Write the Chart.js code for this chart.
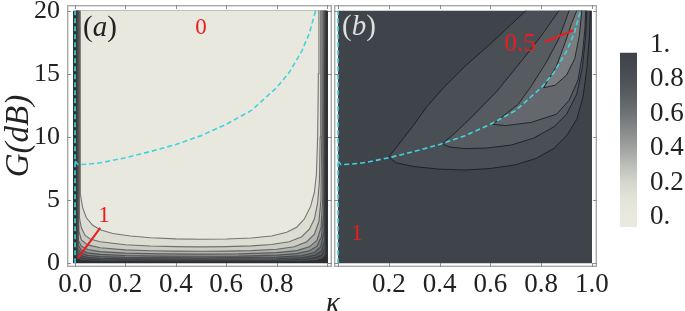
<!DOCTYPE html>
<html>
<head>
<meta charset="utf-8">
<script src="https://cdn.jsdelivr.net/npm/chart.js@4.4.1/dist/chart.umd.min.js"></script>
<style>
  body { margin: 0; background: #fff; }
  #wrap { position: relative; width: 685px; height: 311px; overflow: hidden; font-family: "Liberation Serif", serif; }
  canvas { position: absolute; top: 0; }
  .lbl { position: absolute; transform: translate(-50%, -50%); line-height: 1; white-space: nowrap; }
  .red { color: #ee1c1c; }
</style>
</head>
<body>
<div id="wrap">
  <canvas id="chartA" width="335" height="311" style="left:0"></canvas>
  <canvas id="chartB" width="290" height="311" style="left:330px"></canvas>
  <canvas id="chartC" width="85" height="311" style="left:600px"></canvas>

  <div class="lbl" style="left:100px;top:26px;font-size:29px;color:#222">(<i>a</i>)</div>
  <div class="lbl" style="left:359px;top:25px;font-size:29px;color:#dedede">(<i>b</i>)</div>
  <div class="lbl red" style="left:201px;top:26px;font-size:23px">0</div>
  <div class="lbl red" style="left:104px;top:214px;font-size:23px">1</div>
  <div class="lbl red" style="left:520px;top:42px;font-size:25px">0.5</div>
  <div class="lbl red" style="left:357px;top:232px;font-size:23px">1</div>
  <div class="lbl" style="left:333px;top:302px;font-size:29px;color:#222"><i>κ</i></div>
</div>

<script>
// ---- data ----

// axis ticks
const kTicksA = [0, 0.2, 0.4, 0.6, 0.8];
const kTicksB = [0.2, 0.4, 0.6, 0.8, 1.0];
const kFrameTicks = [0, 0.2, 0.4, 0.6, 0.8, 1.0];
const gTicks = [0, 5, 10, 15, 20];

// colour bar
const cbTicks = [0, 0.2, 0.4, 0.6, 0.8, 1];
const cbTickLabels = ["0.", "0.2", "0.4", "0.6", "0.8", "1."];
const cbRange = [-0.058, 0.953];
const cbStops = [0, 0.1, 0.2, 0.3, 0.4, 0.5, 0.6, 0.7, 0.8, 0.9, 1];
const cbColors = ["#e9e9e0", "#e3e4da", "#d5d6cd", "#bcbeb8", "#a0a3a0", "#868a8a",
                  "#6e7376", "#5b6064", "#4c5157", "#42464d", "#3b3f46"];

// cyan dashed curve (same in both panels)
const cyanK = [0, 0.012, 0.05, 0.1, 0.2, 0.3, 0.4, 0.5, 0.6, 0.7, 0.8, 0.85, 0.9, 0.93, 0.955];
const cyanG = [8.1, 7.8, 7.85, 7.95, 8.35, 8.85, 9.4, 10.1, 11.0, 12.1, 13.9, 15.1, 16.8, 18.2, 20];

// panel (a): contour lines, levels 0.1 ... 0.9 (outer to inner)
const contourA1 = [[0.02,20],[0.02,7],[0.022,5.5],[0.03,4.4],[0.045,3.6],[0.07,3.0],[0.1,2.65],[0.15,2.35],[0.22,2.15],[0.3,2.02],[0.4,1.93],[0.5,1.9],[0.6,1.92],[0.7,2.0],[0.78,2.15],[0.84,2.45],[0.88,2.85],[0.91,3.5],[0.935,4.5],[0.95,5.6],[0.958,7],[0.963,10],[0.966,15],[0.968,20]];
const contourA2 = [[0.017,20],[0.017,5],[0.018,3.6],[0.025,2.8],[0.04,2.2],[0.06,1.92],[0.1,1.7],[0.2,1.46],[0.3,1.36],[0.4,1.31],[0.5,1.29],[0.6,1.31],[0.7,1.37],[0.78,1.48],[0.85,1.7],[0.9,2.1],[0.93,2.7],[0.95,3.5],[0.963,4.8],[0.97,6.5],[0.973,10],[0.975,20]];
const contourA3 = [[0.014,20],[0.014,4],[0.016,2.5],[0.025,1.85],[0.05,1.45],[0.1,1.22],[0.2,1.06],[0.3,0.99],[0.4,0.96],[0.5,0.95],[0.6,0.96],[0.7,1.0],[0.8,1.1],[0.87,1.3],[0.92,1.7],[0.95,2.3],[0.968,3.3],[0.976,5],[0.979,10],[0.98,20]];
const contourA4 = [[0.012,20],[0.012,3],[0.015,1.8],[0.025,1.35],[0.05,1.08],[0.1,0.92],[0.2,0.8],[0.35,0.74],[0.5,0.72],[0.65,0.74],[0.8,0.84],[0.88,1.0],[0.93,1.3],[0.96,1.8],[0.976,2.8],[0.983,5],[0.985,20]];
const contourA5 = [[0.01,20],[0.01,2.4],[0.014,1.4],[0.025,1.02],[0.05,0.82],[0.1,0.7],[0.2,0.61],[0.35,0.56],[0.5,0.55],[0.65,0.56],[0.8,0.64],[0.88,0.76],[0.93,0.98],[0.96,1.35],[0.978,2.1],[0.987,4],[0.989,20]];
const contourA6 = [[0.008,20],[0.008,1.9],[0.012,1.1],[0.025,0.78],[0.05,0.62],[0.1,0.53],[0.2,0.46],[0.5,0.42],[0.8,0.48],[0.9,0.6],[0.95,0.85],[0.975,1.3],[0.988,2.5],[0.992,20]];
const contourA7 = [[0.006,20],[0.006,1.5],[0.01,0.85],[0.025,0.58],[0.05,0.46],[0.1,0.39],[0.2,0.34],[0.5,0.31],[0.8,0.35],[0.9,0.44],[0.95,0.62],[0.978,0.95],[0.991,1.8],[0.995,20]];
const contourA8 = [[0.004,20],[0.004,1.1],[0.008,0.6],[0.025,0.4],[0.05,0.32],[0.1,0.27],[0.5,0.21],[0.8,0.24],[0.9,0.3],[0.95,0.42],[0.98,0.65],[0.993,1.2],[0.997,20]];
const contourA9 = [[0.002,20],[0.002,0.7],[0.006,0.35],[0.025,0.22],[0.1,0.15],[0.5,0.12],[0.9,0.16],[0.96,0.22],[0.985,0.38],[0.996,0.7],[0.999,20]];
const plotBoxA = [[-0.008,20],[-0.008,0],[1.004,0],[1.004,20]];
const bandColorsA = ["#e8e8df", "#dcddd3", "#cbcdc4", "#b2b4ae", "#979a98", "#7e8383", "#686d70", "#565b5f", "#484c51"];
const outerColorA = "#2c2e31";

// panel (b): lobes (top-left edge down to cusp, then lower edge up to the top)
const lobeB1 = [[0.74,20],[0.66,18.5],[0.585,17.1],[0.5,15.6],[0.42,14.0],[0.35,12.4],[0.3,11.0],[0.25,9.7],[0.2,8.4],[0.23,7.95],[0.3,7.65],[0.4,7.45],[0.5,7.38],[0.6,7.5],[0.7,7.8],[0.78,8.3],[0.85,9.1],[0.9,10.1],[0.94,11.4],[0.965,13.2],[0.98,15.5],[0.99,18],[0.993,20]];
const lobeB2 = [[0.87,20],[0.8,18.0],[0.73,16.2],[0.625,13.6],[0.52,11.45],[0.46,10.3],[0.41,9.45],[0.44,9.2],[0.5,9.08],[0.585,9.12],[0.68,9.35],[0.77,9.9],[0.85,10.8],[0.9,11.8],[0.94,13.4],[0.962,15.5],[0.975,18],[0.98,20]];
const lobeB3 = [[0.91,20],[0.87,17.8],[0.82,15.9],[0.76,14.0],[0.71,12.6],[0.61,11.0],[0.66,10.9],[0.76,11.15],[0.86,11.8],[0.91,12.9],[0.945,14.5],[0.962,16.5],[0.972,18.5],[0.975,20]];
const lobeB4 = [[0.94,20],[0.92,19],[0.893,17.4],[0.86,15.6],[0.81,13.9],[0.855,14.1],[0.9,14.9],[0.932,16.2],[0.95,18.0],[0.96,20]];
const plotBoxB = [[0,20],[0,0],[1,0],[1,20]];
const lobeColorsB = ["#4a4e55", "#565b60", "#64686c", "#797d7f"];
const outerColorB = "#3f434a";

// red pointer lines
const pointerA = [[0.012,0.42],[0.1,2.8]];
const pointerB = [[0.815,17.54],[0.929,18.46]];
const zeroLine = [[0,0],[0,20]];

// ---- helpers ----
const FONT = "'Liberation Serif', serif";
const CYAN = "#3fd4df";
const RED = "#ee1c1c";

const pts = arr => arr.map(([x, y]) => ({ x, y }));

function area(points, fillColor, lineColor, width) {
    return {
        data: pts(points),
        fill: "shape",
        backgroundColor: fillColor,
        borderColor: lineColor || "rgba(0,0,0,0)",
        borderWidth: width || 0,
        pointRadius: 0
    };
}

function line(points, color, width, dash) {
    return {
        data: pts(points),
        fill: false,
        borderColor: color,
        borderWidth: width,
        borderDash: dash || [],
        pointRadius: 0
    };
}

const cyanPoints = cyanK.map((k, i) => [k, cyanG[i]]);

// frame with inward ticks, like the original
const framePlugin = {
    id: "frame",
    afterDatasetsDraw(chart, args, opts) {
        const { ctx, chartArea: a, scales } = chart;
        const x = scales.x, y = scales.y;
        ctx.save();
        ctx.strokeStyle = "#a8a8a8";
        ctx.lineWidth = 1.4;
        ctx.strokeRect(a.left + 0.7, a.top + 0.7, a.right - a.left - 1.4, a.bottom - a.top - 1.4);
        ctx.lineWidth = 1;
        ctx.strokeStyle = "#8c8c8c";
        ctx.beginPath();
        (opts.xt || []).forEach(v => {
            const p = Math.round(x.getPixelForValue(v)) + 0.5;
            ctx.moveTo(p, a.bottom); ctx.lineTo(p, a.bottom - 4);
            ctx.moveTo(p, a.top); ctx.lineTo(p, a.top + 4);
        });
        (opts.yt || []).forEach(v => {
            const p = Math.round(y.getPixelForValue(v)) + 0.5;
            ctx.moveTo(a.left, p); ctx.lineTo(a.left + 4, p);
            ctx.moveTo(a.right, p); ctx.lineTo(a.right - 4, p);
        });
        ctx.stroke();
        ctx.restore();
    }
};

// keep the tick labels from pushing the plot area in
function noPad(axis) {
    axis.paddingTop = 0;
    axis.paddingBottom = 0;
    axis.paddingLeft = 0;
    axis.paddingRight = 0;
}

function xAxis(min, max, tickVals) {
    return {
        type: "linear",
        min: min,
        max: max,
        afterBuildTicks: axis => { axis.ticks = tickVals.map(v => ({ value: v })); },
        afterFit: axis => { axis.height = 44; noPad(axis); },
        ticks: {
            callback: v => Number(v).toFixed(1),
            font: { family: FONT, size: 27 },
            color: "#222",
            padding: 2,
            maxRotation: 0,
            autoSkip: false
        },
        grid: { display: false, drawTicks: false },
        border: { display: false }
    };
}

const baseOptions = {
    responsive: false,
    animation: false,
    events: [],
    elements: { line: { tension: 0 }, point: { radius: 0 } }
};

// ---- panel (a) ----
const contoursA = [contourA1, contourA2, contourA3, contourA4, contourA5, contourA6, contourA7, contourA8, contourA9];

new Chart(document.getElementById("chartA"), {
    type: "line",
    data: {
        datasets: [
            line(pointerA, RED, 2),
            line(cyanPoints, CYAN, 1.6, [5, 3]),
            line(zeroLine, CYAN, 1.6, [5, 3]),
            ...contoursA.map((c, i) => area(c, bandColorsA[i], "rgba(45,45,45,0.6)", 1.1)),
            area(plotBoxA, outerColorA)
        ]
    },
    options: {
        ...baseOptions,
        layout: { padding: { left: 0, right: 3, top: 5, bottom: 0 } },
        plugins: {
            legend: { display: false },
            tooltip: { enabled: false },
            frame: { xt: kFrameTicks, yt: gTicks }
        },
        scales: {
            x: xAxis(-0.032, 1.02, kTicksA),
            y: {
                type: "linear",
                min: -0.3,
                max: 20.45,
                afterBuildTicks: axis => { axis.ticks = gTicks.map(v => ({ value: v })); },
                afterFit: axis => { axis.width = 67; noPad(axis); },
                ticks: {
                    callback: v => String(v),
                    font: { family: FONT, size: 26 },
                    color: "#222",
                    padding: 7
                },
                grid: { display: false, drawTicks: false },
                border: { display: false },
                title: {
                    display: true,
                    text: "G(dB)",
                    font: { family: FONT, size: 33, style: "italic" },
                    color: "#222",
                    padding: 0
                }
            }
        }
    },
    plugins: [framePlugin]
});

// ---- panel (b) ----
const lobesB = [lobeB4, lobeB3, lobeB2, lobeB1];

new Chart(document.getElementById("chartB"), {
    type: "line",
    data: {
        datasets: [
            line(pointerB, RED, 2),
            line(cyanPoints, CYAN, 1.6, [5, 3]),
            line(zeroLine, CYAN, 1.6, [5, 3]),
            ...lobesB.map((c, i) => area(c, lobeColorsB[3 - i], "rgba(25,27,30,0.85)", 1)),
            area(plotBoxB, outerColorB)
        ]
    },
    options: {
        ...baseOptions,
        layout: { padding: { left: 4, right: 23, top: 5, bottom: 0 } },
        plugins: {
            legend: { display: false },
            tooltip: { enabled: false },
            frame: { xt: kFrameTicks, yt: gTicks }
        },
        scales: {
            x: xAxis(-0.0157, 1.0197, kTicksB),
            y: { type: "linear", display: false, min: -0.3, max: 20.45 }
        }
    },
    plugins: [framePlugin]
});

// ---- colour bar ----
new Chart(document.getElementById("chartC"), {
    type: "bar",
    data: {
        labels: [""],
        datasets: [{
            data: [cbRange],
            barPercentage: 1,
            categoryPercentage: 1,
            borderWidth: 0,
            backgroundColor: c => {
                const chart = c.chart;
                if (!chart.chartArea) return cbColors[0];
                const y = chart.scales.y;
                const g = chart.ctx.createLinearGradient(0, y.getPixelForValue(0), 0, y.getPixelForValue(1));
                cbStops.forEach((s, i) => g.addColorStop(s, cbColors[i]));
                return g;
            }
        }]
    },
    options: {
        ...baseOptions,
        layout: { padding: { left: 20, right: 0, top: 45, bottom: 84 } },
        plugins: { legend: { display: false }, tooltip: { enabled: false } },
        scales: {
            x: { display: false },
            y: {
                position: "right",
                min: -0.058,
                max: 1.0,
                afterBuildTicks: axis => { axis.ticks = cbTicks.map(v => ({ value: v })); },
                afterFit: axis => { axis.width = 48; noPad(axis); },
                ticks: {
                    callback: (v, i) => cbTickLabels[i],
                    font: { family: FONT, size: 27 },
                    color: "#222",
                    padding: 13
                },
                grid: { display: false, drawTicks: false },
                border: { display: false }
            }
        }
    }
});
</script>
</body>
</html>
